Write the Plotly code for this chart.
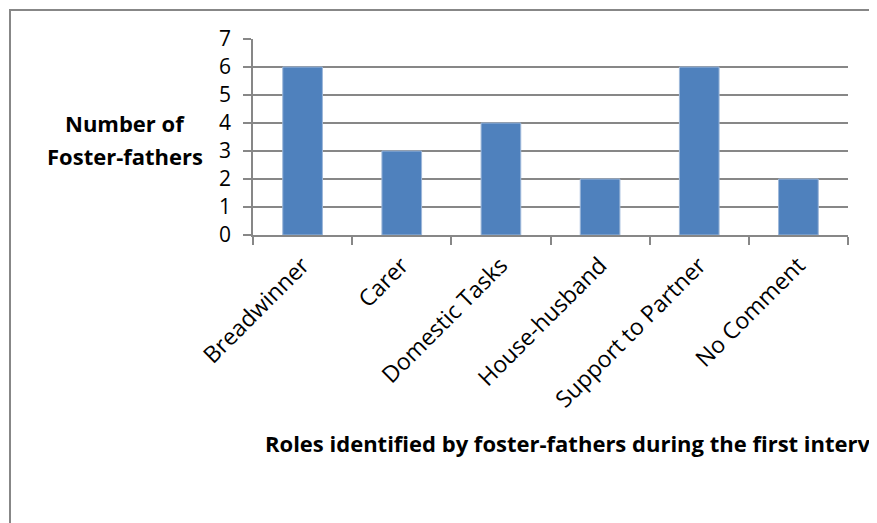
import plotly.graph_objects as go

categories = ["Breadwinner", "Carer", "Domestic Tasks", "House-husband", "Support to Partner", "No Comment"]
counts = [6, 3, 4, 2, 6, 2]
y_ticks = [0, 1, 2, 3, 4, 5, 6, 7]

OFF = 8  # page body margin
W, H = 877, 523
L, R, T, B = 253 - OFF, 877 - (848 - OFF), 39 - OFF, 523 - (235 - OFF)
pw = W - L - R
ph = H - T - B

def px_x(x):
    return (x - OFF - L) / pw

def px_y(y):
    return (H - B - (y - OFF)) / ph

grid = "#878787"
font = "Open Sans, sans-serif"

fig = go.Figure(go.Bar(
    x=categories, y=counts,
    marker=dict(color="#4F81BD", line=dict(color="#9DB7D9", width=1)),
))

fig.update_layout(
    width=W, height=H,
    margin=dict(l=L, r=R, t=T, b=B, autoexpand=False),
    paper_bgcolor="white", plot_bgcolor="white",
    bargap=0.6,
    showlegend=False,
    font=dict(family=font, size=20, color="black"),
    xaxis=dict(
        type="category", tickson="boundaries", ticks="outside", ticklen=8,
        tickcolor=grid, tickwidth=1.5, showline=True, linecolor=grid, linewidth=1.5,
        showgrid=False, tickangle=-45, tickfont=dict(size=23), ticklabelstandoff=6,
    ),
    yaxis=dict(
        range=[0, 7], tickvals=y_ticks, ticks="outside", ticklen=8,
        tickcolor=grid, tickwidth=1.5, showline=True, linecolor=grid, linewidth=1.5,
        showgrid=True, gridcolor=grid, gridwidth=1.5, tickfont=dict(size=21),
        zeroline=False, ticklabelstandoff=8,
    ),
    shapes=[dict(
        type="rect", xref="paper", yref="paper",
        x0=px_x(10), x1=px_x(876), y0=px_y(560), y1=px_y(10),
        line=dict(color="#878787", width=2), layer="below",
    )],
    annotations=[
        dict(text="<b>Number of</b>", xref="paper", yref="paper",
             x=px_x(125), y=px_y(123), xanchor="center", yanchor="middle",
             showarrow=False, font=dict(size=22)),
        dict(text="<b>Foster-fathers</b>", xref="paper", yref="paper",
             x=px_x(125), y=px_y(156), xanchor="center", yanchor="middle",
             showarrow=False, font=dict(size=22)),
        dict(text="<b>Roles identified by foster-fathers during the first interview</b>",
             xref="paper", yref="paper", x=px_x(263), y=px_y(443),
             xanchor="left", yanchor="middle", showarrow=False, font=dict(size=22)),
    ],
)

fig.write_html("out.html")
